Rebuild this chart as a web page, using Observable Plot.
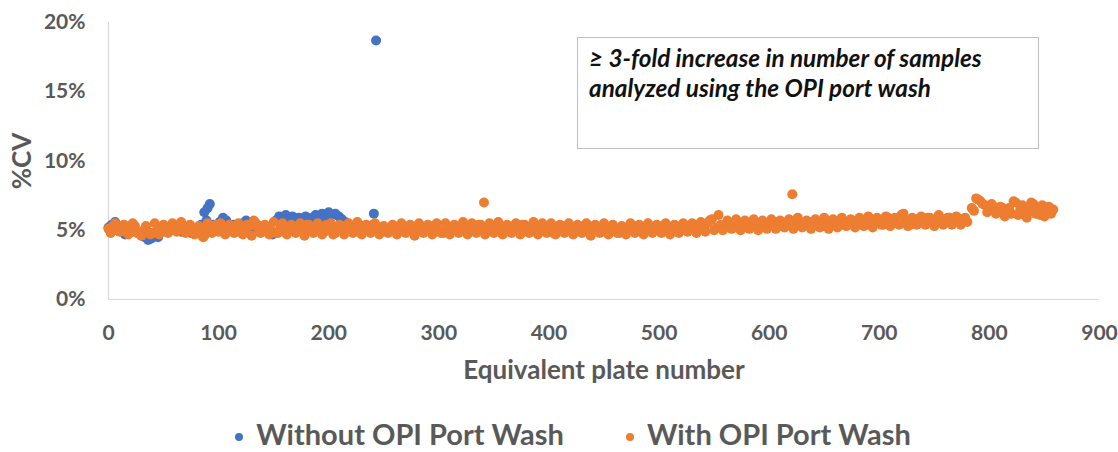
<!DOCTYPE html>
<html>
<head>
<meta charset="utf-8">
<script src="https://cdn.jsdelivr.net/npm/d3@7"></script>
<script src="https://cdn.jsdelivr.net/npm/@observablehq/plot@0.6"></script>
<style>
  html, body { margin: 0; padding: 0; background: #fff; }
  #wrap { position: relative; width: 1118px; height: 452px; overflow: hidden; font-family: Lato, "Open Sans", sans-serif; }
  #note { position: absolute; left: 577px; top: 37px; width: 462px; height: 112px; box-sizing: border-box;
          border: 1px solid #bfbfbf; padding: 5px 0 0 11px; font-weight: bold; font-style: italic;
          font-size: 24.3px; line-height: 30px; color: #111; white-space: nowrap; }
  #legend { position: absolute; left: 0; top: 417px; width: 1118px; display: flex; justify-content: center;
            gap: 62px; font-weight: bold; font-size: 29px; color: #595959; line-height: 34px; padding-left: 28px; box-sizing: border-box; }
  #legend .item { display: flex; align-items: center; gap: 13px; }
  #legend .sw { width: 8px; height: 8px; border-radius: 50%; margin-top: 6px; }
</style>
</head>
<body>
<div id="wrap"></div>
<script>
// Tick values
const xTicks = [0, 100, 200, 300, 400, 500, 600, 700, 800, 900];
const yTicks = [0, 5, 10, 15, 20];

// Series: [equivalent plate number, %CV]
const withoutWash = [
  [0,5.2],[3,5.4],[6,5.6],[9,5.3],[12,5.0],[15,4.7],[18,5.1],[21,4.9],[24,5.0],[27,4.8],
  [30,4.6],[33,4.5],[36,4.3],[39,4.4],[42,4.6],[45,4.5],[48,5.2],[51,5.0],[54,5.1],[57,5.3],
  [60,5.0],[63,5.2],[66,4.9],[69,5.1],[72,5.0],[75,4.8],[78,5.1],[81,5.0],[84,5.4],[87,6.3],
  [89,5.7],[90,6.6],[92,6.9],[95,5.4],[98,5.2],[101,5.6],[104,5.9],[107,5.7],[110,5.3],[113,5.4],
  [116,5.2],[119,5.0],[122,5.5],[125,5.7],[128,5.3],[131,5.1],[134,5.2],[137,5.0],[140,5.3],[143,5.1],
  [146,5.2],[149,4.7],[152,5.7],[155,6.0],[158,5.9],[161,6.1],[164,5.8],[167,6.0],[170,5.7],[173,5.9],
  [176,5.8],[179,6.0],[182,5.7],[185,5.9],[188,6.1],[191,5.8],[194,6.2],[197,5.9],[200,6.3],[203,6.1],
  [206,6.2],[209,6.0],[212,5.8],[215,5.6],[218,5.4],[221,5.3],[224,5.2],[227,5.0],[230,5.1],[233,5.2],
  [236,5.0],[239,5.3],[241,6.2],[243,18.7]
];

const withWash = [
  [0,5.1],[4,5.3],[8,5.0],[12,5.2],[16,4.9],[20,5.1],[24,5.3],[28,4.8],[32,5.0],[36,4.9],
  [40,4.8],[44,5.0],[48,5.2],[52,4.9],[56,5.1],[60,5.4],[64,5.0],[68,5.3],[72,5.2],[76,4.9],
  [80,5.1],[84,4.7],[86,4.5],[88,5.0],[92,5.3],[96,5.1],[100,4.9],[104,5.2],[108,5.0],[112,5.1],
  [116,4.9],[120,5.2],[124,5.0],[128,5.3],[132,5.7],[136,5.1],[140,4.9],[144,5.2],[148,5.0],[152,4.8],
  [156,5.1],[160,5.3],[164,5.0],[168,5.2],[172,4.9],[176,5.1],[180,5.4],[184,5.0],[188,5.2],[192,5.1],
  [196,4.9],[200,5.2],[204,4.7],[208,5.1],[212,5.3],[216,5.0],[220,5.2],[224,4.9],[228,5.1],[232,5.3],
  [236,5.2],[240,5.4],[244,5.0],[248,5.2],[252,4.9],[256,5.1],[260,5.0],[264,5.2],[268,4.9],[272,5.0],
  [276,5.1],[280,4.9],[284,5.2],[288,5.0],[292,5.3],[296,5.1],[300,5.0],[304,4.8],[308,5.2],[312,5.1],
  [316,5.3],[320,5.0],[324,5.2],[328,4.9],[332,5.1],[336,5.4],[341,7.0],[340,5.0],[344,5.2],[348,5.1],
  [352,5.3],[356,5.0],[360,5.2],[364,4.9],[368,5.3],[372,5.1],[376,5.4],[380,5.0],[384,5.2],[388,5.1],
  [392,4.9],[396,5.2],[400,5.0],[404,4.8],[408,5.1],[412,5.3],[416,5.0],[420,5.2],[424,4.9],[428,5.1],
  [432,5.3],[436,5.0],[440,5.2],[444,5.1],[448,4.9],[452,5.2],[456,5.0],[460,5.1],[464,4.8],[468,5.2],
  [472,5.0],[476,5.1],[480,5.3],[484,4.9],[488,5.1],[492,5.2],[496,5.0],[500,5.3],[504,5.1],[508,4.9],
  [512,5.2],[516,5.1],[520,5.3],[524,5.0],[528,5.2],[532,5.4],[536,5.1],[540,5.3],[544,5.5],[548,5.8],
  [552,5.2],[556,5.4],[560,5.2],[564,5.5],[568,5.3],[572,5.4],[576,5.2],[580,5.5],[584,5.3],[588,5.6],
  [592,5.4],[596,5.3],[600,5.5],[604,5.4],[608,5.6],[612,5.3],[616,5.5],[621,7.6],[620,5.4],[624,5.7],
  [628,5.5],[632,5.4],[636,5.6],[640,5.4],[644,5.5],[648,5.3],[652,5.6],[656,5.4],[660,5.5],[664,5.7],
  [668,5.4],[672,5.6],[676,5.5],[680,5.7],[684,5.4],[688,5.6],[692,5.8],[696,5.5],[700,5.7],[704,5.4],
  [708,5.9],[712,5.6],[716,5.5],[720,6.1],[724,5.7],[728,5.4],[732,5.8],[736,5.6],[740,5.5],[744,5.9],
  [748,5.7],[752,5.6],[756,5.8],[760,5.5],[764,5.9],[768,5.7],[772,5.6],[776,5.8],[780,5.6],[784,6.6],
  [788,7.3],[792,7.1],[796,6.8],[800,6.5],[804,6.7],[808,6.3],[812,6.6],[816,6.4],[820,6.2],[824,7.0],
  [828,6.5],[832,6.1],[836,6.4],[840,6.9],[844,6.6],[848,6.8],[852,6.3],[856,6.2],[858,6.5],
  [2,4.8],[6,5.5],[10,4.9],[14,5.4],[18,4.7],[22,5.5],[26,4.8],[30,4.6],[34,5.3],[38,4.7],
  [42,5.5],[46,4.7],[50,5.4],[54,4.8],[58,5.5],[62,4.9],[66,5.6],[70,4.8],[74,5.4],[78,4.7],
  [82,5.3],[87,4.6],[90,5.5],[94,4.8],[98,5.4],[102,5.5],[106,4.7],[110,5.4],[114,4.8],[118,5.5],
  [122,4.7],[126,5.4],[130,4.6],[134,5.5],[138,4.8],[142,5.4],[146,4.7],[150,5.6],[154,4.8],[158,5.5],
  [162,4.7],[166,5.4],[170,4.8],[174,5.5],[178,4.6],[182,5.4],[186,4.8],[190,5.5],[194,4.7],[198,5.4],
  [202,5.5],[206,4.8],[210,5.4],[214,4.7],[218,5.5],[222,4.8],[226,5.6],[230,4.7],[234,5.4],[238,4.8],
  [242,5.5],[246,4.7],[250,5.3],[254,4.8],[258,5.4],[262,4.7],[266,5.5],[270,4.8],[274,5.4],[278,4.6],
  [282,5.5],[286,4.8],[290,5.4],[294,4.7],[298,5.5],[302,4.8],[306,5.5],[310,4.7],[314,5.4],[318,4.8],
  [322,5.6],[326,4.7],[330,5.5],[334,4.8],[338,5.4],[342,4.7],[346,5.5],[350,4.8],[354,5.6],[358,4.7],
  [362,5.4],[366,4.8],[370,5.5],[374,4.7],[378,5.4],[382,4.8],[386,5.6],[390,4.7],[394,5.5],[398,4.8],
  [402,5.5],[406,4.7],[410,5.4],[414,4.8],[418,5.5],[422,4.7],[426,5.4],[430,4.8],[434,5.5],[438,4.6],
  [442,5.4],[446,4.8],[450,5.5],[454,4.7],[458,5.4],[462,4.8],[466,5.3],[470,4.7],[474,5.5],[478,4.8],
  [482,5.4],[486,4.7],[490,5.5],[494,4.8],[498,5.4],[502,4.8],[506,5.5],[510,4.7],[514,5.4],[518,4.8],
  [522,5.5],[526,4.9],[530,5.5],[534,4.8],[538,5.6],[542,4.9],[546,5.7],[550,5.0],[554,6.1],[558,5.0],
  [562,5.7],[566,5.1],[570,5.8],[574,5.0],[578,5.7],[582,5.1],[586,5.8],[590,5.0],[594,5.7],[598,5.1],
  [602,5.8],[606,5.1],[610,5.7],[614,5.2],[618,5.8],[622,5.1],[626,5.9],[630,5.2],[634,5.7],[638,5.1],
  [642,5.8],[646,5.2],[650,5.9],[654,5.1],[658,5.8],[662,5.2],[666,5.9],[670,5.3],[674,5.8],[678,5.2],
  [682,5.9],[686,5.3],[690,6.0],[694,5.2],[698,5.9],[702,5.4],[706,6.0],[710,5.3],[714,5.9],[718,5.4],
  [722,6.2],[726,5.3],[730,5.9],[734,5.4],[738,6.0],[742,5.4],[746,5.9],[750,5.3],[754,6.1],[758,5.4],
  [762,5.9],[766,5.4],[770,6.0],[774,5.4],[778,5.9],[786,6.4],[790,7.2],[794,6.9],[798,6.3],[802,6.9],
  [806,6.2],[810,6.7],[814,6.0],[818,6.6],[822,7.1],[826,6.1],[830,6.8],[834,5.9],[838,7.0],[842,6.2],
  [846,6.1],[850,6.0],[854,6.7],[857,6.4]
];

const seriesNames = ["Without OPI Port Wash", "With OPI Port Wash"];
const seriesColors = ["#4472C4", "#ED7D31"];
const xTitle = "Equivalent plate number";
const yTitle = "%CV";
const noteLines = ["≥ 3-fold increase in number of samples", "analyzed using the OPI port wash"];

const gray = "#595959";

const chart = Plot.plot({
  width: 1118,
  height: 410,
  marginLeft: 108,
  marginRight: 19,
  marginTop: 22,
  marginBottom: 111,
  style: { fontFamily: "Lato, 'Open Sans', sans-serif", fontSize: "21px", fontWeight: "bold", color: gray, background: "transparent" },
  x: { domain: [0, 900] },
  y: { domain: [0, 20] },
  marks: [
    Plot.ruleX([0], { stroke: "#d9d9d9", strokeWidth: 1.2 }),
    Plot.ruleY([0], { stroke: "#d9d9d9", strokeWidth: 1.2 }),
    Plot.axisX({ ticks: xTicks, tickSize: 0, tickPadding: 26, label: null, tickFormat: d => String(d) }),
    Plot.axisY({ ticks: yTicks, tickSize: 0, tickPadding: 23, label: null, tickFormat: d => d + "%" }),
    Plot.dot(withoutWash, { x: d => d[0], y: d => d[1], r: 5, fill: seriesColors[0], stroke: "none" }),
    Plot.dot(withWash, { x: d => d[0], y: d => d[1], r: 5, fill: seriesColors[1], stroke: "none" }),
    Plot.text([xTitle], { frameAnchor: "bottom", lineAnchor: "middle", dy: 71, fontSize: 26, fontWeight: "bold", fill: gray }),
    Plot.text([yTitle], { frameAnchor: "left", textAnchor: "middle", lineAnchor: "middle", dx: -86, rotate: -90, fontSize: 26, fontWeight: "bold", fill: gray })
  ]
});

const wrap = document.getElementById("wrap");
wrap.appendChild(chart);

const note = document.createElement("div");
note.id = "note";
note.innerHTML = noteLines.join("<br>");
wrap.appendChild(note);

const legend = document.createElement("div");
legend.id = "legend";
seriesNames.forEach((name, i) => {
  const item = document.createElement("div");
  item.className = "item";
  const sw = document.createElement("span");
  sw.className = "sw";
  sw.style.background = seriesColors[i];
  const t = document.createElement("span");
  t.textContent = name;
  item.appendChild(sw);
  item.appendChild(t);
  legend.appendChild(item);
});
wrap.appendChild(legend);
</script>
</body>
</html>
